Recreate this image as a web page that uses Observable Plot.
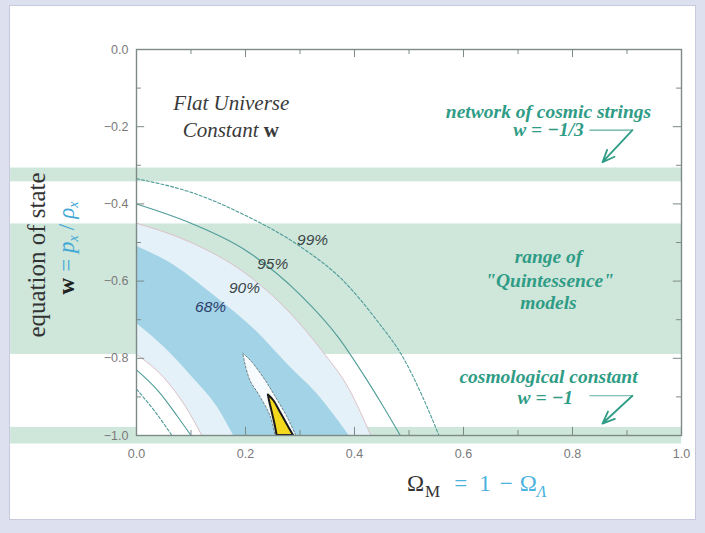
<!DOCTYPE html>
<html><head><meta charset="utf-8">
<script src="https://cdn.jsdelivr.net/npm/d3@7"></script>
<script src="https://cdn.jsdelivr.net/npm/@observablehq/plot@0.6"></script>
<style>
html,body{margin:0;padding:0;background:#dde0ef;width:705px;height:533px;overflow:hidden;}
#panel{position:absolute;left:9px;top:5px;width:685px;height:513px;background:#fff;border:1px solid #c6cadc;}
#panel svg{display:block;}
</style></head><body><div id="panel"></div>
<script>
// ---- tick values ----
const xMajor = [0, 0.2, 0.4, 0.6, 0.8, 1.0];
const xMinor = [0.1, 0.3, 0.5, 0.7, 0.9];
const wMajor = [0, -0.2, -0.4, -0.6, -0.8, -1.0];
const wMinor = [-0.1, -0.3, -0.5, -0.7, -0.9];

// ---- horizontal model bands (w ranges) ----
const bandNames = ["cosmic strings", "quintessence", "cosmological constant"];
const bandTop = [-0.307, -0.452, -0.979];
const bandBottom = [-0.343, -0.790, -1.022];

// ---- confidence contour boundaries, [Omega_M, w] ----
const c99Outer = [[0,-0.335],[0.1,-0.37],[0.2,-0.43],[0.3,-0.51],[0.38,-0.60],[0.44,-0.70],[0.49,-0.80],[0.525,-0.90],[0.555,-1.0]];
const c95Outer = [[0,-0.40],[0.1,-0.45],[0.2,-0.52],[0.3,-0.635],[0.37,-0.745],[0.42,-0.85],[0.455,-0.93],[0.484,-1.0]];
const c90Outer = [[0,-0.45],[0.1,-0.50],[0.2,-0.58],[0.28,-0.68],[0.34,-0.78],[0.39,-0.88],[0.43,-1.0]];
const c68Outer = [[0,-0.51],[0.07,-0.56],[0.14,-0.635],[0.22,-0.73],[0.28,-0.82],[0.33,-0.89],[0.39,-1.0]];
const c68Inner = [[0,-0.71],[0.05,-0.77],[0.10,-0.845],[0.15,-0.93],[0.178,-1.0]];
const c90Inner = [[0,-0.79],[0.05,-0.85],[0.09,-0.925],[0.12,-1.0]];
const c95Inner = [[0,-0.83],[0.04,-0.885],[0.075,-0.95],[0.10,-1.0]];
const c99Inner = [[0,-0.88],[0.035,-0.94],[0.065,-1.0]];

// ---- combined-constraint regions: w, left Omega_M, right Omega_M ----
const haloW = [-0.788, -0.81, -0.858, -0.897, -0.95, -1.0];
const haloLeft = [0.196, 0.199, 0.209, 0.226, 0.246, 0.255];
const haloRight = [0.196, 0.212, 0.237, 0.254, 0.276, 0.293];
const yellowW = [-0.895, -0.91, -0.94, -0.97, -1.0];
const yellowLeft = [0.242, 0.244, 0.249, 0.254, 0.258];
const yellowRight = [0.242, 0.252, 0.264, 0.276, 0.288];

// ---- contour labels ----
const pctLabels = ["99%", "95%", "90%", "68%"];
const pctX = [0.323, 0.250, 0.198, 0.136];
const pctW = [-0.494, -0.556, -0.618, -0.667];

const bands = bandNames.map((n, i) => ({n, top: bandTop[i], bot: bandBottom[i]}));
const pct = pctLabels.map((t, i) => ({t, x: pctX[i], w: pctW[i]}));
const halo = haloW.map((w, i) => ({w, a: haloLeft[i], b: haloRight[i]}));
const yellow = yellowW.map((w, i) => ({w, a: yellowLeft[i], b: yellowRight[i]}));
const P = a => a.map(([x, w]) => ({x, w}));

const teal = "#2f9c86";
const serif = "Liberation Serif, Times New Roman, serif";
const sans = "Liberation Sans, Arial, sans-serif";

const under = (pts, fill) => Plot.areaY(P(pts), {x: "x", y1: -1, y2: "w", fill, curve: "monotone-x", clip: true});
const curveLine = (pts, opts) => Plot.line(P(pts), {x: "x", y: "w", curve: "monotone-x", clip: true, ...opts});

const annTeal = [
  {x: 0.756, w: -0.160, t: "network of cosmic strings"},
  {x: 0.756, w: -0.209, t: "w = −1/3"},
  {x: 0.756, w: -0.537, t: "range of"},
  {x: 0.758, w: -0.600, t: "\"Quintessence\""},
  {x: 0.756, w: -0.656, t: "models"},
  {x: 0.756, w: -0.848, t: "cosmological constant"},
  {x: 0.750, w: -0.902, t: "w = −1"}
];
const arrowLines = [
  {x1: 0.831, w1: -0.209, x2: 0.910, w2: -0.209},
  {x1: 0.831, w1: -0.897, x2: 0.910, w2: -0.897}
];
const arrowHeads = [
  {x1: 0.910, w1: -0.209, x2: 0.855, w2: -0.292},
  {x1: 0.910, w1: -0.897, x2: 0.855, w2: -0.969}
];

const chart = Plot.plot({
  width: 685, height: 513,
  marginLeft: 126, marginRight: 14, marginTop: 43, marginBottom: 84,
  x: {domain: [0, 1]},
  y: {domain: [-1, 0]},
  style: {background: "transparent", fontFamily: sans, fontSize: "12.5px", overflow: "visible"},
  marks: [
    Plot.rect(bands, {x1: () => -0.231, x2: () => 1, y1: "bot", y2: "top", fill: "#cfe6da"}),
    under(c90Outer, "#e4f1f8"),
    under(c68Outer, "#a2d3e6"),
    under(c68Inner, "#e4f1f8"),
    under(c90Inner, "#ffffff"),
    curveLine(c90Outer, {stroke: "#dcc0c8", strokeWidth: 1}),
    curveLine(c90Inner, {stroke: "#dcc0c8", strokeWidth: 1}),
    curveLine(c95Outer, {stroke: "#4e9c98", strokeWidth: 1.1}),
    curveLine(c95Inner, {stroke: "#4e9c98", strokeWidth: 1.1}),
    curveLine(c99Outer, {stroke: "#4e9c98", strokeWidth: 1.1, strokeDasharray: "3,2"}),
    curveLine(c99Inner, {stroke: "#4e9c98", strokeWidth: 1.1, strokeDasharray: "3,2"}),
    Plot.areaX(halo, {y: "w", x1: "a", x2: "b", fill: "#f7fbfd", stroke: "#5a6466", strokeWidth: 0.8, strokeDasharray: "2,2", curve: "catmull-rom", clip: true}),
    Plot.areaX(yellow, {y: "w", x1: "a", x2: "b", fill: "#f3d81e", stroke: "#1a1a1a", strokeWidth: 2, curve: "catmull-rom", clip: true}),
    Plot.frame({stroke: "#7d8a88", strokeWidth: 1.4}),
    // inward ticks on all four sides
    Plot.ruleX(xMajor, {x: d => d, y1: () => -1, y2: () => -0.979, stroke: "#7d8a88"}),
    Plot.ruleX(xMinor, {x: d => d, y1: () => -1, y2: () => -0.987, stroke: "#7d8a88"}),
    Plot.ruleX(xMajor, {x: d => d, y1: () => 0, y2: () => -0.021, stroke: "#7d8a88"}),
    Plot.ruleX(xMinor, {x: d => d, y1: () => 0, y2: () => -0.013, stroke: "#7d8a88"}),
    Plot.ruleY(wMajor, {y: d => d, x1: () => 0, x2: () => 0.015, stroke: "#7d8a88"}),
    Plot.ruleY(wMinor, {y: d => d, x1: () => 0, x2: () => 0.009, stroke: "#7d8a88"}),
    Plot.ruleY(wMajor, {y: d => d, x1: () => 1, x2: () => 0.985, stroke: "#7d8a88"}),
    Plot.ruleY(wMinor, {y: d => d, x1: () => 1, x2: () => 0.991, stroke: "#7d8a88"}),
    Plot.axisX({ticks: xMajor, tickFormat: d3.format(".1f"), tickSize: 0, tickPadding: 14, label: null, fill: "#7a7a7a", fontSize: 12.5}),
    Plot.axisY({ticks: wMajor, tickFormat: d3.format(".1f"), tickSize: 0, tickPadding: 8, label: null, fill: "#7a7a7a", fontSize: 12.5}),
    // contour labels
    Plot.text(pct, {x: "x", y: "w", text: "t", fontFamily: sans, fontStyle: "italic", fontSize: 15.5, fill: d => d.t === "68%" ? "#2c3d6a" : "#3a4646"}),
    // annotations
    Plot.text([{x: 0.174, w: -0.140, t: "Flat Universe"}], {x: "x", y: "w", text: "t", fontFamily: serif, fontStyle: "italic", fontSize: 21, fill: "#3a3a3a"}),
    Plot.text(annTeal, {x: "x", y: "w", text: "t", fontFamily: serif, fontStyle: "italic", fontWeight: "bold", fontSize: 19.5, fill: teal}),
    Plot.link(arrowLines, {x1: "x1", y1: "w1", x2: "x2", y2: "w2", stroke: "#5fb0a0", strokeWidth: 1.2}),
    Plot.arrow(arrowHeads, {x1: "x1", y1: "w1", x2: "x2", y2: "w2", stroke: teal, strokeWidth: 1.8, headLength: 11, headAngle: 45})
  ]
});

document.getElementById("panel").appendChild(chart);

// rich-text titles
const svg = d3.select(chart);
const X = chart.scale("x"), Y = chart.scale("y");

const cw = svg.append("text")
  .attr("x", X.apply(0.174)).attr("y", Y.apply(-0.209)).attr("dy", "0.35em")
  .attr("text-anchor", "middle").attr("font-family", serif).attr("font-style", "italic")
  .attr("font-size", 21).attr("fill", "#3a3a3a");
cw.append("tspan").text("Constant ");
cw.append("tspan").attr("font-weight", "bold").attr("font-style", "normal").text("w");

// y-axis title
svg.append("text")
  .attr("transform", "translate(35,249) rotate(-90)")
  .attr("text-anchor", "middle").attr("font-family", serif).attr("font-size", 25).attr("fill", "#333")
  .text("equation of state");
const yt = svg.append("text")
  .attr("transform", "translate(64,242) rotate(-90)")
  .attr("text-anchor", "middle").attr("font-family", serif).attr("font-size", 23).attr("fill", "#3fa8d6");
yt.append("tspan").attr("fill", "#222").attr("font-weight", "bold").text("w");
yt.append("tspan").attr("dx", 6).text("=");
yt.append("tspan").attr("dx", 6).attr("font-style", "italic").text("p");
yt.append("tspan").attr("font-style", "italic").attr("font-size", 14).attr("dy", 4).text("x");
yt.append("tspan").attr("dx", 5).attr("dy", -4).text("/");
yt.append("tspan").attr("dx", 5).attr("font-style", "italic").text("ρ");
yt.append("tspan").attr("font-style", "italic").attr("font-size", 14).attr("dy", 4).text("x");

// x-axis title
const xt = svg.append("text")
  .attr("x", 397).attr("y", 485)
  .attr("text-anchor", "start").attr("font-family", serif).attr("font-size", 23).attr("fill", "#4ab2dc");
xt.append("tspan").attr("fill", "#333").text("Ω");
xt.append("tspan").attr("fill", "#333").attr("font-size", 17).attr("dx", 1).attr("dy", 6).text("M");
xt.append("tspan").attr("dx", 14).attr("dy", -6).text("=");
xt.append("tspan").attr("dx", 12).text("1");
xt.append("tspan").attr("dx", 9).text("−");
xt.append("tspan").attr("dx", 7).text("Ω");
xt.append("tspan").attr("font-style", "italic").attr("font-size", 16).attr("dy", 6).text("Λ");
</script>
</body></html>
